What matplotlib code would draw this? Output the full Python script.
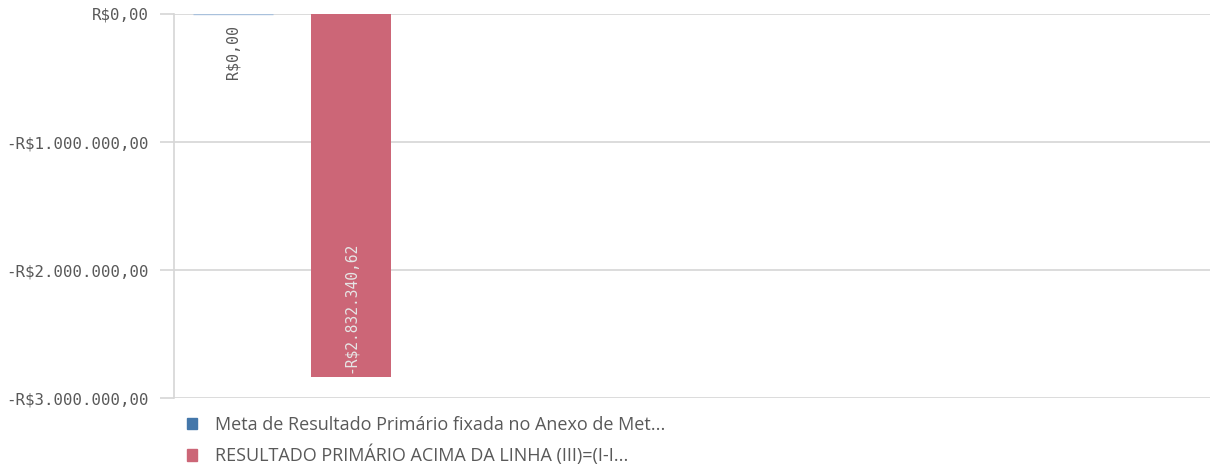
import matplotlib.pyplot as plt
from matplotlib.patches import Patch
from matplotlib.ticker import FuncFormatter

# dados
series = ['Meta de Resultado Primário fixada no Anexo de Met...',
          'RESULTADO PRIMÁRIO ACIMA DA LINHA (III)=(I-I...']
values = [0.0, -2832340.62]
colors = ['#4477aa', '#cc6677']
yticks = [0, -1000000, -2000000, -3000000]


def brl(v, pos=None):
    s = '{:,.2f}'.format(abs(v)).replace(',', 'X').replace('.', ',').replace('X', '.')
    return ('-R$' if v < 0 else 'R$') + s


fig = plt.figure(figsize=(12.23, 4.65), dpi=100)
ax = fig.add_axes([174 / 1223, 1 - 398 / 465, 1036 / 1223, 384 / 465])

grid_c = '#d6d6d6'
xs = list(range(len(values)))
width = 0.686
for i, v in enumerate(values):
    if v == 0:
        ax.bar(xs[i], v, width=width, color=colors[i], edgecolor='#a9c1dc', linewidth=1, zorder=3)
        ax.text(xs[i], v - 85000, brl(v), rotation=90, ha='center', va='top',
                family='DejaVu Sans Mono', fontsize=10.8, color='#595959', zorder=4)
    else:
        ax.bar(xs[i], v, width=width, color=colors[i], zorder=3)
        ax.text(xs[i], v + 30000, brl(v), rotation=90, ha='center', va='bottom',
                family='DejaVu Sans Mono', fontsize=10.5, color='#e6e6e6', zorder=4)

ax.set_xlim(-0.5, 8.28)
ax.set_ylim(-3000000, 0)
ax.set_yticks(yticks)
ax.yaxis.set_major_formatter(FuncFormatter(brl))
ax.set_xticks([])
ax.grid(axis='y', color=grid_c, linewidth=1.2, zorder=0)
for s in ['top', 'right', 'bottom']:
    ax.spines[s].set_visible(False)
ax.spines['left'].set_color(grid_c)
ax.spines['left'].set_linewidth(1.2)
ax.tick_params(axis='y', length=10, width=1.2, color=grid_c, pad=8, labelsize=11.3,
               labelcolor='#595959')
for lab in ax.get_yticklabels():
    lab.set_family('DejaVu Sans Mono')

handles = [Patch(color=c, label=s) for c, s in zip(colors, series)]
fig.legend(handles=handles, loc='upper left', bbox_to_anchor=(174 / 1223, 1 - 403 / 465),
           frameon=False, handlelength=0.6, handleheight=0.6, handletextpad=0.95,
           labelspacing=0.62, borderaxespad=0.3, prop={'family': 'Open Sans', 'size': 13},
           labelcolor='#595959')

fig.savefig('out.png', dpi=100)
